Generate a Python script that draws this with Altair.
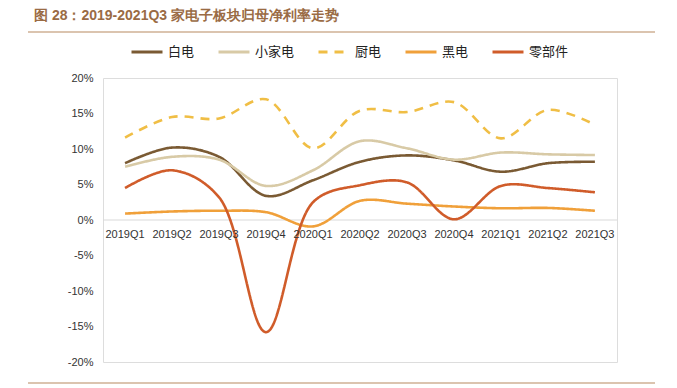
import altair as alt
import pandas as pd

quarters = ["2019Q1", "2019Q2", "2019Q3", "2019Q4", "2020Q1", "2020Q2",
            "2020Q3", "2020Q4", "2021Q1", "2021Q2", "2021Q3"]
series_names = ["白电", "小家电", "厨电", "黑电", "零部件"]
baidian = [8.0, 10.2, 8.9, 3.4, 5.6, 8.2, 9.1, 8.4, 6.8, 8.0, 8.2]
xiaojiadian = [7.5, 8.9, 8.5, 4.8, 7.0, 11.1, 10.1, 8.5, 9.5, 9.25, 9.15]
chudian = [11.6, 14.5, 14.3, 17.0, 10.1, 15.4, 15.2, 16.6, 11.5, 15.5, 13.4]
heidian = [0.9, 1.2, 1.3, 1.1, -0.9, 2.7, 2.3, 1.9, 1.65, 1.7, 1.3]
lingbujian = [4.5, 7.0, 3.2, -15.8, 2.5, 4.9, 5.3, 0.1, 4.8, 4.5, 3.9]
y_ticks = [-20, -15, -10, -5, 0, 5, 10, 15, 20]
title_text = "图 28：2019-2021Q3 家电子板块归母净利率走势"

colors = ["#7A5A33", "#D8CAA6", "#F0BE45", "#F0A03A", "#D05C2A"]
dashes = [[1, 0], [1, 0], [9, 7], [1, 0], [1, 0]]

all_values = [baidian, xiaojiadian, chudian, heidian, lingbujian]
rows = []
for name, vals in zip(series_names, all_values):
    for q, v in zip(quarters, vals):
        rows.append({"quarter": q, "series": name, "value": v})
df = pd.DataFrame(rows)
qdf = pd.DataFrame({"quarter": quarters})
one = pd.DataFrame({"a": [0]})

W, H = 514, 284

xenc = alt.X("quarter:O", sort=quarters,
             scale=alt.Scale(type="point", padding=0.47), axis=None)

yscale = alt.Scale(domain=[-20, 20])
yaxis = alt.Axis(values=y_ticks, labelExpr="datum.value + '%'",
                 labelOverlap=False, tickCount=9,
                 grid=False, domain=False, ticks=False, title=None,
                 labelPadding=10, labelFontSize=11, labelColor="#333",
                 labelFont="Liberation Sans")

legend_kw = dict(title=None, orient="none", legendX=27, legendY=-43,
                 direction="horizontal", columns=5, symbolType="stroke",
                 symbolSize=961, symbolStrokeWidth=3, labelFontSize=13,
                 labelFont="Noto Sans CJK SC", labelColor="#222",
                 columnPadding=17, labelOffset=4, symbolOpacity=1)

lines = alt.Chart(df).mark_line(interpolate="catmull-rom", strokeWidth=2.6).encode(
    x=xenc,
    y=alt.Y("value:Q", scale=yscale, axis=yaxis),
    color=alt.Color("series:N", scale=alt.Scale(domain=series_names, range=colors),
                    legend=alt.Legend(**legend_kw)),
    strokeDash=alt.StrokeDash("series:N", scale=alt.Scale(domain=series_names, range=dashes),
                              legend=alt.Legend(**legend_kw)),
)

zero = alt.Chart(one).mark_rule(color="#D9D9D9", strokeWidth=1).encode(
    y=alt.YDatum(0, scale=yscale, axis=yaxis))

xlabels = alt.Chart(qdf).mark_text(fontSize=11, color="#333", font="Liberation Sans",
                                   dy=15).encode(
    x=xenc, y=alt.YDatum(0, scale=yscale, axis=yaxis), text="quarter:N")

title = alt.Chart(one).mark_text(align="left", baseline="middle", fontSize=14,
                                 fontWeight="bold", color="#9A6B44",
                                 font="Liberation Sans").encode(
    x=alt.value(-69), y=alt.value(-62), text=alt.value(title_text))

top_rule = alt.Chart(one).mark_rule(color="#B88A60", strokeWidth=1.2).encode(
    x=alt.value(-75), x2=alt.value(552), y=alt.value(-46))
bottom_rule = alt.Chart(one).mark_rule(color="#B88A60", strokeWidth=1.2).encode(
    x=alt.value(-75), x2=alt.value(552), y=alt.value(305))

chart = alt.layer(zero, lines, xlabels, title, top_rule, bottom_rule).properties(
    width=W, height=H,
    autosize=alt.AutoSizeParams(type="none"),
    padding={"left": 95, "top": 70, "right": 52, "bottom": 26},
).configure_view(strokeWidth=0).configure(background="white")

chart.save("out.html", embed_options={"renderer": "svg", "actions": False})
